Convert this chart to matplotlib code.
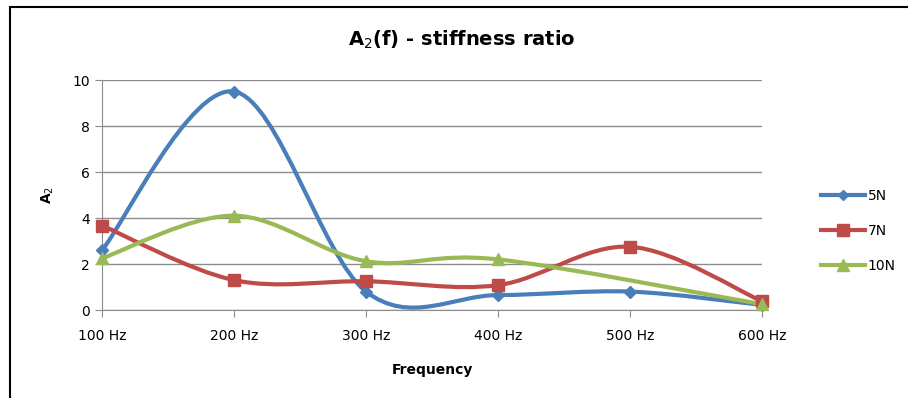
import numpy as np
import matplotlib
matplotlib.use("Agg")
import matplotlib.pyplot as plt
from matplotlib.path import Path
from matplotlib.patches import PathPatch, Rectangle

categories = ["100 Hz", "200 Hz", "300 Hz", "400 Hz", "500 Hz", "600 Hz"]
series_names = ["5N", "7N", "10N"]
a2_5n = [2.6, 9.5, 0.8, 0.65, 0.8, 0.22]
a2_7n = [3.67, 1.3, 1.25, 1.08, 2.75, 0.38]
a2_10n = [2.25, 4.1, 2.12, 2.2, np.nan, 0.25]  # no point at 500 Hz

colors = ["#4a7ebb", "#be4b48", "#98b954"]
markers = ["D", "s", "^"]
msizes = [6, 9, 9]


def smooth_path(xs, ys):
    # Excel-like smoothing: cubic Bezier through points (Catmull-Rom tangents)
    pts = np.array([(x, y) for x, y in zip(xs, ys) if not np.isnan(y)])
    n = len(pts)
    verts = [pts[0]]
    codes = [Path.MOVETO]
    for i in range(n - 1):
        p0 = pts[max(i - 1, 0)]
        p1 = pts[i]
        p2 = pts[i + 1]
        p3 = pts[min(i + 2, n - 1)]
        c1 = p1 + (p2 - p0) / 6.0
        c2 = p2 - (p3 - p1) / 6.0
        verts += [c1, c2, p2]
        codes += [Path.CURVE4] * 3
    return Path(verts, codes)


fig = plt.figure(figsize=(9.08, 3.98), dpi=100)
fig.patches.append(Rectangle((10 / 908, -0.1), 1.2, 1 - 7 / 398 + 0.1,
                             transform=fig.transFigure, fill=False,
                             edgecolor="black", linewidth=1.5))

ax = fig.add_axes([102 / 908, 1 - 310 / 398, 660 / 908, 230 / 398])
x = np.arange(len(categories))

for name, vals, c, m, ms in zip(series_names, [a2_5n, a2_7n, a2_10n],
                                colors, markers, msizes):
    patch = PathPatch(smooth_path(x, vals), facecolor="none", edgecolor=c,
                      linewidth=3, capstyle="round", joinstyle="round",
                      zorder=3)
    ax.add_patch(patch)
    ax.plot(x, vals, linestyle="none", marker=m, markersize=ms, color=c,
            zorder=4, clip_on=False)
    ax.plot([], [], color=c, linewidth=3, marker=m, markersize=ms - 1,
            label=name)

ax.set_xlim(0, 5)
ax.set_ylim(0, 10)
ax.set_yticks([0, 2, 4, 6, 8, 10])
ax.set_xticks(x)
ax.set_xticklabels(categories)
ax.yaxis.grid(True, color="#8c8c8c", linewidth=1)
ax.set_axisbelow(True)
for s in ["top", "right"]:
    ax.spines[s].set_visible(False)
ax.spines["left"].set_color("#8c8c8c")
ax.spines["bottom"].set_color("#8c8c8c")
ax.tick_params(axis="both", color="#8c8c8c", length=5, labelsize=10,
               labelcolor="black")
ax.tick_params(axis="x", pad=9)

fig.text(462 / 908, 1 - 40 / 398, "A$_2$(f) - stiffness ratio", fontsize=14,
         fontweight="bold", ha="center", va="center")
ax.set_xlabel("Frequency", fontsize=10, fontweight="bold", labelpad=14)
ax.set_ylabel("A$_2$", fontsize=10, fontweight="bold", labelpad=12)

ax.legend(loc="center left", bbox_to_anchor=(1.07, 0.343), frameon=False,
          fontsize=10, handlelength=3.2, labelspacing=1.5, handletextpad=0.2)

fig.savefig("out.png", dpi=100)
